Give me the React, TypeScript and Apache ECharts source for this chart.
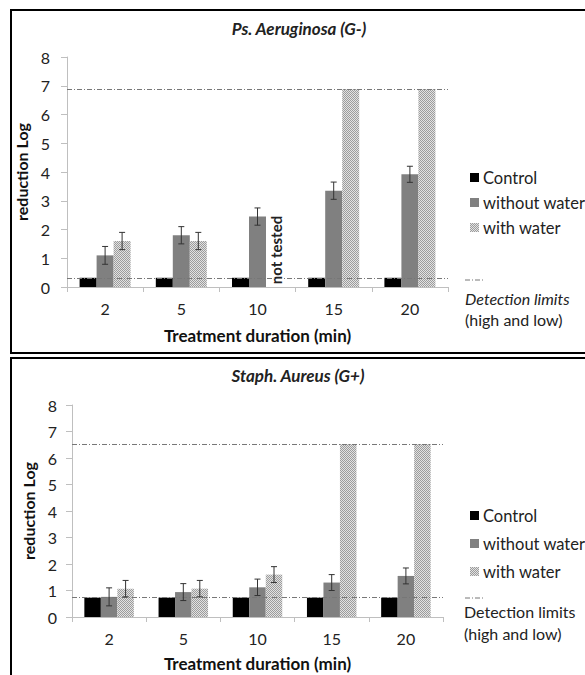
import React, { useEffect, useRef } from "react";
import * as echarts from "echarts";

const categories = ["2", "5", "10", "15", "20"];
const seriesNames = ["Control", "without water", "with water"];
const yTicks = [0, 8, 1];

// Ps. Aeruginosa (G-)
const psControl = [0.32, 0.32, 0.32, 0.32, 0.32];
const psWithout = [1.1, 1.8, 2.45, 3.35, 3.92];
const psWithoutErr = [0.31, 0.3, 0.3, 0.3, 0.28];
const psWith: (number | null)[] = [1.6, 1.6, null, 6.89, 6.89];
const psWithErr: (number | null)[] = [0.3, 0.3, null, null, null];
const psLimits = [6.89, 0.32];

// Staph. Aureus (G+)
const saControl = [0.73, 0.73, 0.73, 0.73, 0.73];
const saWithout = [0.76, 0.94, 1.12, 1.3, 1.55];
const saWithoutErr = [0.34, 0.32, 0.31, 0.3, 0.3];
const saWith: (number | null)[] = [1.07, 1.07, 1.6, 6.53, 6.53];
const saWithErr: (number | null)[] = [0.31, 0.31, 0.3, null, null];
const saLimits = [6.53, 0.73];

const FONT = "Lato";

function makePattern(): HTMLCanvasElement {
  const c = document.createElement("canvas");
  c.width = 2;
  c.height = 2;
  const ctx = c.getContext("2d")!;
  ctx.fillStyle = "#e2e2e2";
  ctx.fillRect(0, 0, 2, 2);
  ctx.fillStyle = "#9c9c9c";
  ctx.fillRect(0, 0, 1, 1);
  ctx.fillRect(1, 1, 1, 1);
  return c;
}

export default function App() {
  const ref = useRef<HTMLDivElement>(null);

  useEffect(() => {
    if (!ref.current) return;
    const chart = echarts.init(ref.current, null, { renderer: "svg" });
    const pattern = { image: makePattern(), repeat: "repeat" } as any;
    const barColors = ["#000000", "#808080", pattern];

    const errData = (vals: (number | null)[], errs: (number | null)[]) =>
      vals
        .map((v, i) =>
          v != null && errs[i] != null ? [i, (v as number) - (errs[i] as number), (v as number) + (errs[i] as number)] : null
        )
        .filter((d) => d !== null);

    const errSeries = (gi: number, data: any[], offset: number) => ({
      type: "custom",
      xAxisIndex: gi,
      yAxisIndex: gi,
      z: 10,
      silent: true,
      encode: { x: 0, y: [1, 2] },
      data,
      renderItem: (params: any, api: any) => {
        const x = api.value(0);
        const lo = api.coord([x, api.value(1)]);
        const hi = api.coord([x, api.value(2)]);
        const cx = lo[0] + offset;
        const st = { stroke: "#333", lineWidth: 1 };
        return {
          type: "group",
          children: [
            { type: "line", shape: { x1: cx, y1: lo[1], x2: cx, y2: hi[1] }, style: st },
            { type: "line", shape: { x1: cx - 3, y1: lo[1], x2: cx + 3, y2: lo[1] }, style: st },
            { type: "line", shape: { x1: cx - 3, y1: hi[1], x2: cx + 3, y2: hi[1] }, style: st },
          ],
        };
      },
    });

    const limitLine = (limits: number[]) => ({
      symbol: "none",
      silent: true,
      label: { show: false },
      lineStyle: { color: "#777", type: [5, 2, 1, 2], width: 1 },
      data: limits.map((v) => ({ yAxis: v })),
      z: 6,
    });

    const barSeries = (gi: number, vals: any[][], width: number, limits: number[]) =>
      vals.map((v, si) => ({
        type: "bar",
        name: seriesNames[si],
        xAxisIndex: gi,
        yAxisIndex: gi,
        barWidth: width,
        barGap: "0%",
        data: v.map((d) => (d == null ? "-" : d)),
        itemStyle: { color: barColors[si] },
        markLine: si === 2 ? limitLine(limits) : undefined,
      }));

    const xAxis = (gi: number, gap: number) => ({
      type: "category",
      gridIndex: gi,
      data: categories,
      axisLine: { lineStyle: { color: "#bfbfbf" } },
      axisTick: { show: true, length: 5, lineStyle: { color: "#bfbfbf" } },
      axisLabel: { color: "#222", fontSize: 16, fontFamily: FONT, margin: 13 },
      name: "Treatment duration (min)",
      nameLocation: "middle",
      nameGap: gap,
      nameTextStyle: { color: "#111", fontSize: 17, fontWeight: "bold", fontFamily: FONT },
    });

    const yAxis = (gi: number, margin: number) => ({
      type: "value",
      gridIndex: gi,
      min: yTicks[0],
      max: yTicks[1],
      interval: yTicks[2],
      axisLine: { show: true, lineStyle: { color: "#bfbfbf" } },
      axisTick: { show: true, length: 6, lineStyle: { color: "#bfbfbf" } },
      splitLine: { show: false },
      axisLabel: { color: "#222", fontSize: 16, fontFamily: FONT, margin },
      name: "reduction Log",
      nameLocation: "middle",
      nameRotate: 90,
      nameGap: 31,
      nameTextStyle: { color: "#111", fontSize: 16, fontWeight: "bold", fontFamily: FONT },
    });

    const legend = (top: number, gap: number) => ({
      orient: "vertical",
      left: 465,
      top,
      itemGap: gap,
      itemWidth: 9,
      itemHeight: 9,
      icon: "rect",
      selectedMode: false,
      data: seriesNames,
      textStyle: { color: "#222", fontSize: 16.5, fontFamily: FONT, padding: [0, 0, 0, -1] },
    });

    const txt = (x: number, y: number, text: string, extra: any = {}) => ({
      type: "text",
      x,
      y,
      silent: true,
      style: {
        text,
        fill: "#222",
        font: `${extra.fontStyle || "normal"} ${extra.fontWeight || "normal"} ${extra.fontSize || 16}px ${FONT}`,
        textAlign: extra.align || "left",
        textVerticalAlign: "middle",
      },
      rotation: extra.rotation || 0,
    });

    const option: any = {
      animation: false,
      grid: [
        { left: 67, right: 137, top: 57, height: 230 },
        { left: 72, right: 142, top: 405, height: 212 },
      ],
      xAxis: [xAxis(0, 40), xAxis(1, 38)],
      yAxis: [yAxis(0, 17), yAxis(1, 15)],
      legend: [legend(164, 8), legend(502, 11)],
      series: [
        ...barSeries(0, [psControl, psWithout, psWith], 17, psLimits),
        errSeries(0, errData(psWithout, psWithoutErr), 0),
        errSeries(0, errData(psWith, psWithErr), 17),
        ...barSeries(1, [saControl, saWithout, saWith], 16.5, saLimits),
        errSeries(1, errData(saWithout, saWithoutErr), 0),
        errSeries(1, errData(saWith, saWithErr), 16.5),
      ],
      graphic: [
        { type: "rect", shape: { x: 11, y: 10, width: 600, height: 343 }, style: { fill: "none", stroke: "#000", lineWidth: 2 }, silent: true },
        { type: "rect", shape: { x: 11, y: 358, width: 600, height: 340 }, style: { fill: "none", stroke: "#000", lineWidth: 2 }, silent: true },
        txt(299, 28, "Ps. Aeruginosa (G-)", { fontStyle: "italic", fontWeight: "bold", fontSize: 17, align: "center" }),
        txt(298, 375, "Staph. Aureus (G+)", { fontStyle: "italic", fontWeight: "bold", fontSize: 17, align: "center" }),
        txt(276, 250, "not tested", { fontWeight: "bold", fontSize: 15, align: "center", rotation: Math.PI / 2 }),
        { type: "line", shape: { x1: 465, y1: 280, x2: 485, y2: 280 }, style: { stroke: "#777", lineWidth: 1, lineDash: [5, 2, 1, 2] }, silent: true },
        txt(465, 298, "Detection limits", { fontStyle: "italic" }),
        txt(465, 319, "(high and low)"),
        { type: "line", shape: { x1: 465, y1: 598, x2: 485, y2: 598 }, style: { stroke: "#777", lineWidth: 1, lineDash: [5, 2, 1, 2] }, silent: true },
        txt(464, 611, "Detection limits"),
        txt(464, 633, "(high and low)"),
      ],
    };
    chart.setOption(option);
    return () => chart.dispose();
  }, []);

  return (
    <div
      ref={ref}
      style={{ position: "absolute", left: 0, top: 0, width: 585, height: 675, background: "#fff" }}
    />
  );
}
